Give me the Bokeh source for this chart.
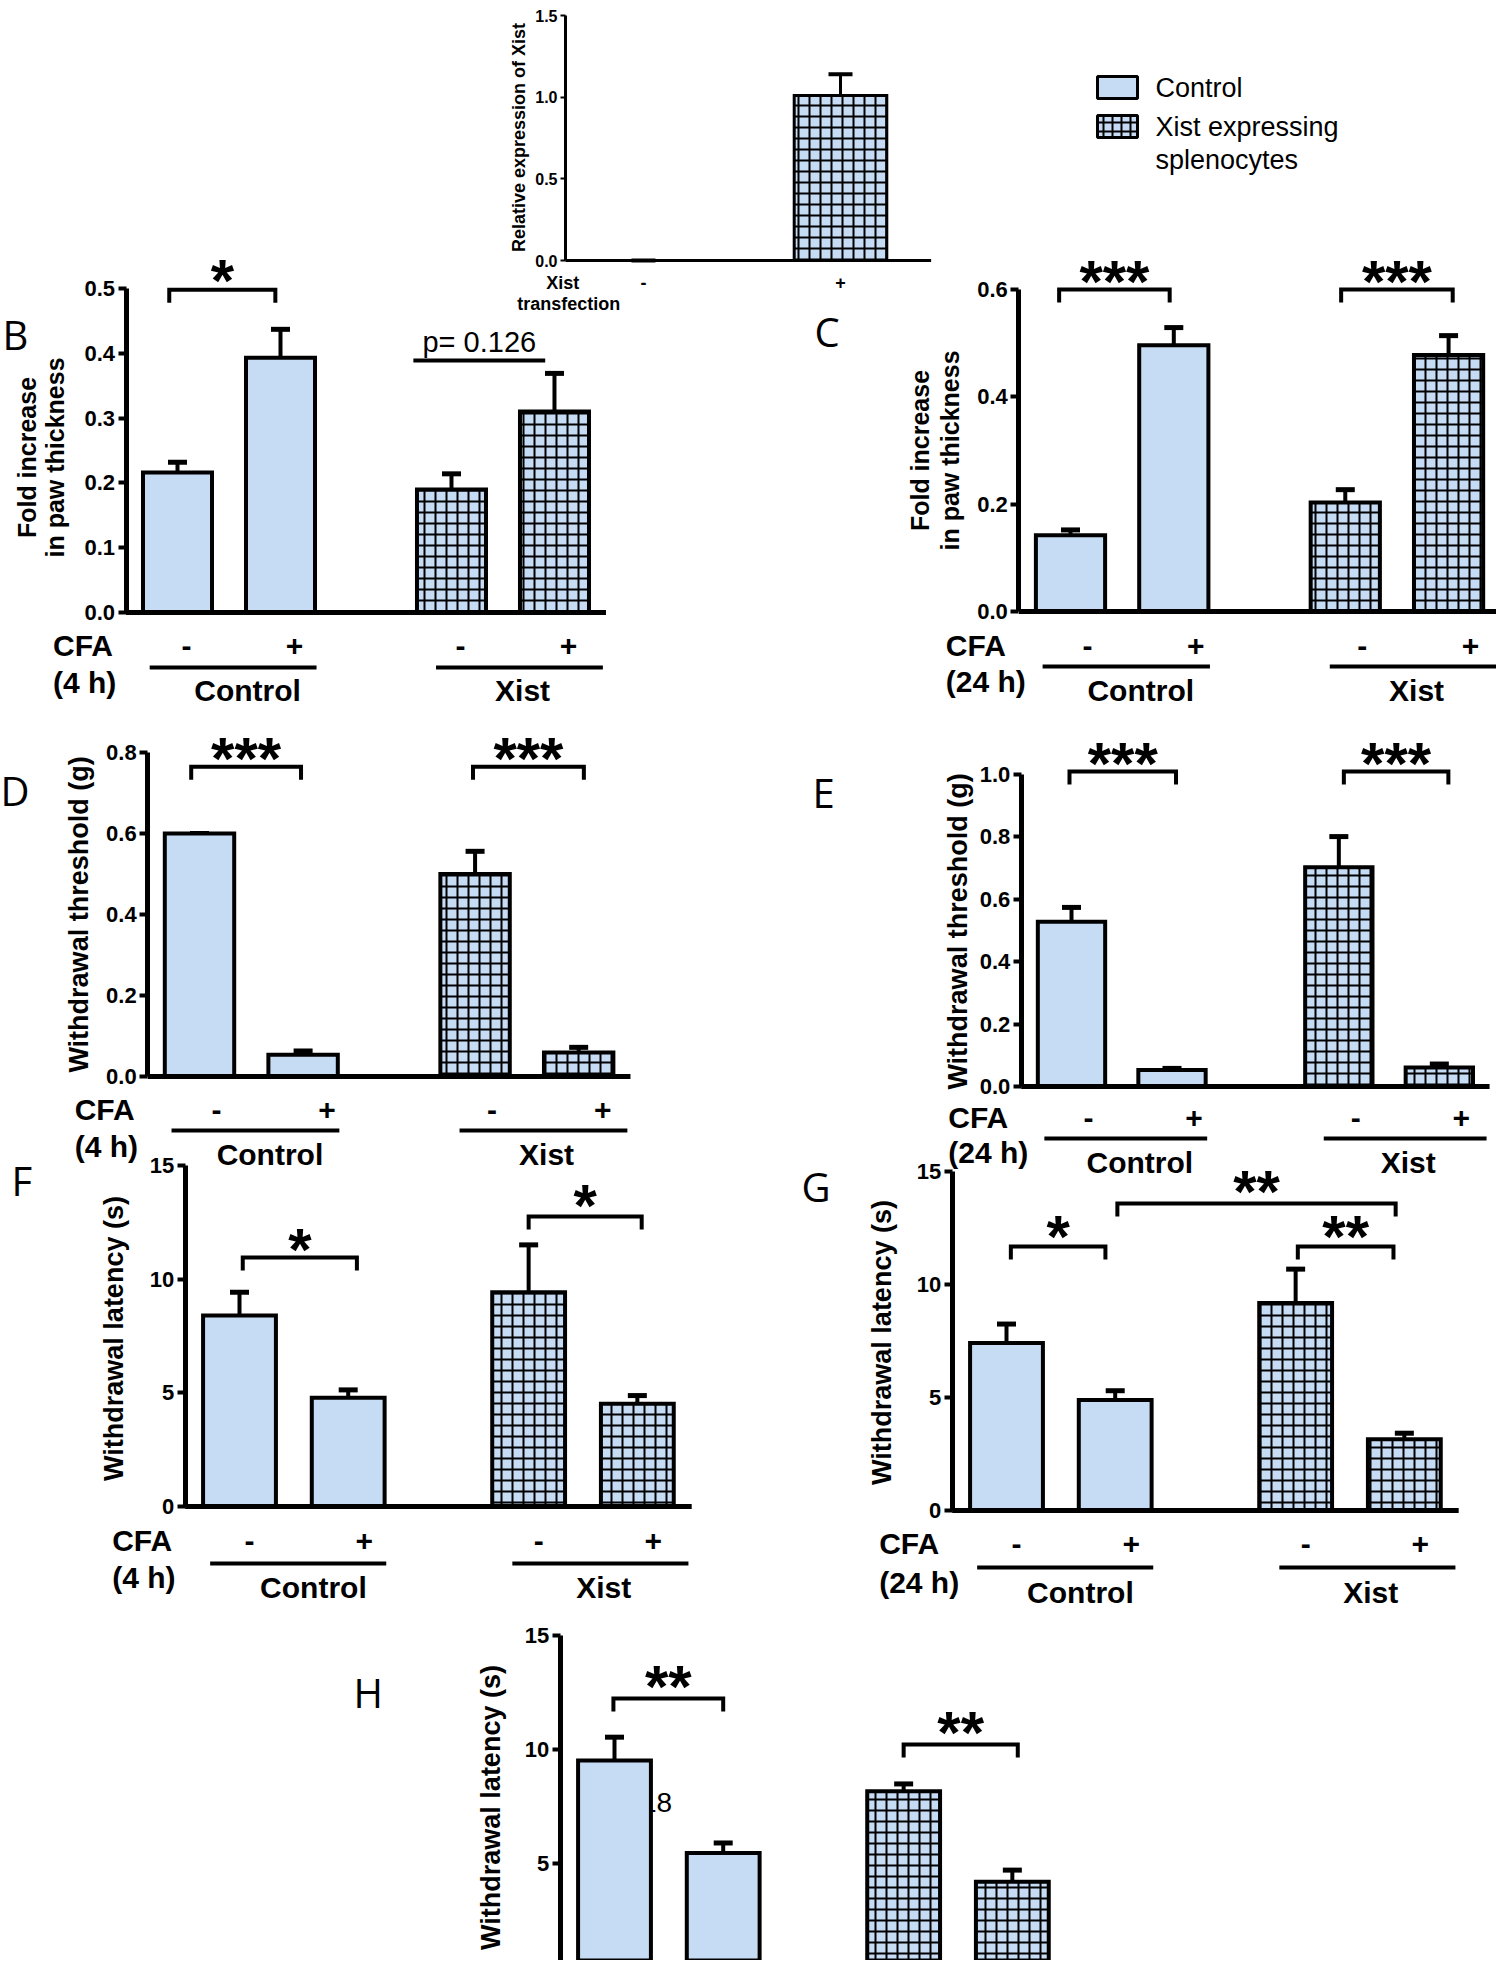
import math
from bokeh.plotting import figure
from bokeh.models import (Range1d, LinearAxis, FixedTicker, NumeralTickFormatter,
                          Whisker, TeeHead, ColumnDataSource)
from bokeh.embed import file_html
from bokeh.resources import INLINE
from bokeh.core.properties import value

# ------------------------------------------------------------------ data
cfa_levels = ["-", "+", "-", "+"]
group_names = ["Control", "Xist"]
legend_labels = ["Control", "Xist expressing", "splenocytes"]

xist_levels = ["-", "+"]
a_mean = [0.0, 1.01]
a_sem = [0.0, 0.13]
a_ticks = [0.0, 0.5, 1.0, 1.5]

b_mean = [0.216, 0.393, 0.190, 0.310]
b_sem = [0.016, 0.044, 0.024, 0.059]
b_ticks = [0.0, 0.1, 0.2, 0.3, 0.4, 0.5]

c_mean = [0.142, 0.496, 0.203, 0.478]
c_sem = [0.010, 0.033, 0.024, 0.036]
c_ticks = [0.0, 0.2, 0.4, 0.6]

d_mean = [0.600, 0.054, 0.500, 0.059]
d_sem = [0.0, 0.009, 0.056, 0.013]
d_ticks = [0.0, 0.2, 0.4, 0.6, 0.8]

e_mean = [0.528, 0.053, 0.703, 0.061]
e_sem = [0.046, 0.005, 0.098, 0.011]
e_ticks = [0.0, 0.2, 0.4, 0.6, 0.8, 1.0]

f_mean = [8.40, 4.78, 9.43, 4.52]
f_sem = [1.03, 0.35, 2.08, 0.36]
g_mean = [7.41, 4.89, 9.18, 3.15]
g_sem = [0.84, 0.41, 1.50, 0.27]
h_mean = [9.52, 5.46, 8.17, 4.20]
h_sem = [1.02, 0.44, 0.32, 0.51]
lat_ticks = [0, 5, 10, 15]

p_value_text = "p= 0.126"

# ------------------------------------------------------------------ layout
W, H, M = 1496, 1960, 0
FONT = value("Liberation Sans")
LETTER_FONT = value("Open Sans")
BLUE = "#c6dcf5"
POS = [0.0, 1.0, 2.66, 3.66]
AXIS_X = -0.5
END_X = 4.16
BAR_W = 0.67
STAR_FS = 60

p = figure(width=W, height=H, x_range=Range1d(0, W), y_range=Range1d(H, 0),
           output_backend="svg", toolbar_location=None,
           x_axis_location=None, y_axis_location=None, min_border=0,
           outline_line_color=None, background_fill_color="white",
           border_fill_color="white")
p.grid.visible = False

XR, YR, GEOM = {}, {}, {}


def L(v):
    return v - M


def add_ranges(name, c0, s, y0, ppu):
    XR[name] = Range1d((M - c0) / s, (W + M - c0) / s)
    YR[name] = Range1d((y0 - M - H) / ppu, (y0 - M) / ppu)
    GEOM[name] = (s, ppu)


def kw(name):
    return dict(x_range_name=name, y_range_name=name)


def txt(name, xs, ys, texts, size, bold=True, align="center", baseline="middle",
        font=FONT, angle=0.0):
    extra = kw(name) if name else {}
    p.text(x=xs, y=ys, text=texts, text_font=font,
           text_font_style="bold" if bold else "normal", text_font_size=size,
           text_align=align, text_baseline=baseline, text_color="black",
           angle=angle, **extra)


def bars(name, xs, tops, sems, hatched, width, lw, cap):
    src = ColumnDataSource(dict(x=xs, top=tops,
                                upper=[t + e for t, e in zip(tops, sems)]))
    extra = dict(hatch_pattern="+", hatch_color="black", hatch_weight=2,
                 hatch_scale=11) if hatched else {}
    p.vbar(x="x", top="top", bottom=0, width=width, source=src, fill_color=BLUE,
           line_color="black", line_width=lw, line_join="miter", **extra, **kw(name))
    p.add_layout(Whisker(source=src, base="x", upper="upper", lower="top",
                         dimension="height", line_width=lw, line_color="black",
                         upper_head=TeeHead(size=cap, line_width=lw + 1,
                                            line_color="black"),
                         lower_head=None, **kw(name)))


def yaxis(name, ticks, fmt, loc, lw, tick_out, fs):
    ax = LinearAxis(x_range_name=name, y_range_name=name, fixed_location=loc,
                    bounds=(ticks[0], ticks[-1]),
                    ticker=FixedTicker(ticks=ticks, minor_ticks=[]),
                    formatter=NumeralTickFormatter(format=fmt),
                    axis_line_width=lw, axis_line_color="black",
                    major_tick_line_width=lw - 1, major_tick_line_color="black",
                    major_tick_in=0, major_tick_out=tick_out,
                    minor_tick_line_color=None,
                    major_label_text_font="Liberation Sans",
                    major_label_text_font_style="bold",
                    major_label_text_font_size=fs,
                    major_label_text_color="black",
                    major_label_standoff=3)
    p.add_layout(ax, "left")


def std_panel(name, mean, sem, ticks, fmt, cfg):
    add_ranges(name, cfg["c0"], cfg["s"], cfg["y0"], cfg["ppu"])
    s, ppu = GEOM[name]
    ux = lambda px: px / s
    uy = lambda px: px / ppu
    if "stray" in cfg:
        sx, sy, st = cfg["stray"]
        txt(name, [sx], [sy], [st], "28px", bold=False, align="right")
    bars(name, POS[:2], mean[:2], sem[:2], False, BAR_W, 4, 19)
    bars(name, POS[2:], mean[2:], sem[2:], True, BAR_W, 4, 19)
    p.segment(x0=[AXIS_X], x1=[END_X], y0=[0], y1=[0], line_width=5,
              line_color="black", **kw(name))
    yaxis(name, ticks, fmt, AXIS_X, 5, 8, "22px")
    if "rows" in cfg:
        r_pm, r_line, r_hours, r_grp = cfg["rows"]
        dx_m, dx_p = cfg["pm_dx"]
        xs = [POS[i] + ux(dx_m if cfa_levels[i] == "-" else dx_p) for i in range(4)]
        txt(name, xs, [-uy(r_pm)] * 4, cfa_levels, "30px")
        left = AXIS_X - ux(73)
        txt(name, [left, left], [-uy(r_pm), -uy(r_hours)], ["CFA", cfg["hours"]],
            "30px", align="left")
        p.segment(x0=[POS[0] - 0.27, POS[2] - 0.15], x1=[POS[1] + 0.35, POS[3] + 0.47],
                  y0=[-uy(r_line)] * 2, y1=[-uy(r_line)] * 2, line_width=4,
                  line_color="black", **kw(name))
        txt(name, [POS[0] + 0.68, POS[2] + 0.69], [-uy(r_grp)] * 2, group_names, "30px")
    for (x1, x2, yb, lab, up) in cfg["brackets"]:
        drop = uy(13)
        p.multi_line(xs=[[x1, x1, x2, x2]], ys=[[yb - drop, yb, yb, yb - drop]],
                     line_width=4, line_color="black", line_join="miter", **kw(name))
        txt(name, [(x1 + x2) / 2], [yb + uy(up - 0.11 * STAR_FS)], [lab],
            "%dpx" % STAR_FS, baseline="alphabetic")
    # rotated axis title
    for t, x in zip(cfg["ylabel"], cfg["ylabel_x"]):
        txt(None, [L(x)], [L(cfg["ylabel_y"])], [t], cfg.get("ylabel_fs", "27px"),
            angle=math.pi / 2)
    letter, lx, ly = cfg["letter"]
    txt(None, [max(L(lx), 0)], [L(ly)], [letter], "40px", bold=False,
        align="left", font=LETTER_FONT)


# ------------------------------------------------------------------ panel A
add_ranges("A", 643, 197, 260, 163.3)
bars("A", [0.0, 1.0], a_mean, a_sem, True, 0.47, 3, 24)
p.segment(x0=[-0.396], x1=[1.46], y0=[0], y1=[0], line_width=3, line_color="black",
          **kw("A"))
yaxis("A", a_ticks, "0.0", -0.396, 3, 5, "16px")
sA, pA = GEOM["A"]
txt("A", [0.0, 1.0], [-22 / pA] * 2, xist_levels, "18px")
txt("A", [-0.41, -0.38], [-22 / pA, -43 / pA], ["Xist", "transfection"], "18px")
txt(None, [L(518)], [L(137)], ["Relative expression of Xist"], "18px",
    angle=math.pi / 2)

# legend
p.rect(x=[L(1117)], y=[L(87)], width=40, height=22, fill_color=BLUE,
       line_color="black", line_width=3)
p.rect(x=[L(1117)], y=[L(126)], width=40, height=22, fill_color=BLUE,
       line_color="black", line_width=3, hatch_pattern="+", hatch_color="black",
       hatch_weight=2, hatch_scale=9)
txt(None, [L(1155)] * 3, [L(87), L(126), L(159)], legend_labels, "27px",
    bold=False, align="left")

# ------------------------------------------------------------------ panels B-H
std_panel("B", b_mean, b_sem, b_ticks, "0.0", dict(
    c0=177, s=103, y0=612, ppu=648, pm_dx=(9, 14), rows=(33, 55, 70, 78),
    hours="(4 h)", ylabel=["Fold increase", "in paw thickness"], ylabel_x=[26, 54],
    ylabel_y=457, ylabel_fs="25px", letter=("B", 2, 334),
    brackets=[(-0.08, 0.95, 0.498, "*", 16)]))
sB, pB = GEOM["B"]
p.segment(x0=[2.29], x1=[3.57], y0=[0.389], y1=[0.389], line_width=4,
          line_color="black", **kw("B"))
txt("B", [2.93], [0.389 + 18 / pB], [p_value_text], "29px", bold=False)

std_panel("C", c_mean, c_sem, c_ticks, "0.0", dict(
    c0=1070, s=103.3, y0=611, ppu=536.7, pm_dx=(17, 22), rows=(34, 55, 70, 79),
    hours="(24 h)", ylabel=["Fold increase", "in paw thickness"], ylabel_x=[919, 949],
    ylabel_y=450, ylabel_fs="25px", letter=("C", 814, 331),
    brackets=[(-0.11, 0.96, 0.6, "***", 15), (2.62, 3.70, 0.6, "***", 15)]))

std_panel("D", d_mean, d_sem, d_ticks, "0.0", dict(
    c0=199, s=103.6, y0=1076, ppu=405, pm_dx=(17, 24), rows=(33, 54, 70, 78),
    hours="(4 h)", ylabel=["Withdrawal threshold (g)"], ylabel_x=[78],
    ylabel_y=914, letter=("D", 0, 790),
    brackets=[(-0.08, 0.98, 0.765, "***", 15), (2.64, 3.71, 0.765, "***", 15)]))

std_panel("E", e_mean, e_sem, e_ticks, "0.0", dict(
    c0=1071, s=100.5, y0=1086, ppu=312, pm_dx=(17, 22), rows=(31, 52, 66, 76),
    hours="(24 h)", ylabel=["Withdrawal threshold (g)"], ylabel_x=[957],
    ylabel_y=931, letter=("E", 812, 792),
    brackets=[(-0.02, 1.04, 1.01, "***", 14), (2.71, 3.75, 1.01, "***", 14)]))

std_panel("F", f_mean, f_sem, lat_ticks, "0", dict(
    c0=239, s=108.7, y0=1506, ppu=22.73, pm_dx=(10, 16), rows=(34, 57, 71, 81),
    hours="(4 h)", ylabel=["Withdrawal latency (s)"], ylabel_x=[113],
    ylabel_y=1338, letter=("F", 11, 1180),
    brackets=[(0.03, 1.08, 10.95, "*", 15), (2.66, 3.70, 12.76, "*", 18)]))

std_panel("G", g_mean, g_sem, lat_ticks, "0", dict(
    c0=1006, s=108.7, y0=1510, ppu=22.6, pm_dx=(10, 16), rows=(33, 57, 72, 82),
    hours="(24 h)", ylabel=["Withdrawal latency (s)"], ylabel_x=[881],
    ylabel_y=1342, letter=("G", 801, 1186),
    brackets=[(0.04, 0.91, 11.68, "*", 17), (2.68, 3.56, 11.68, "**", 17),
              (1.02, 3.58, 13.58, "**", 19)]))

std_panel("H", h_mean, h_sem, lat_ticks, "0", dict(
    c0=614, s=108.7, y0=1977, ppu=22.8, ylabel=["Withdrawal latency (s)"],
    ylabel_x=[490], ylabel_y=1807, letter=("H", 353, 1692),
    stray=(0.53, 7.68, "18"),
    brackets=[(-0.01, 1.0, 12.24, "**", 19), (2.66, 3.71, 10.22, "**", 19)]))

p.extra_x_ranges = XR
p.extra_y_ranges = YR

open("out.html", "w").write(file_html(p, INLINE))
